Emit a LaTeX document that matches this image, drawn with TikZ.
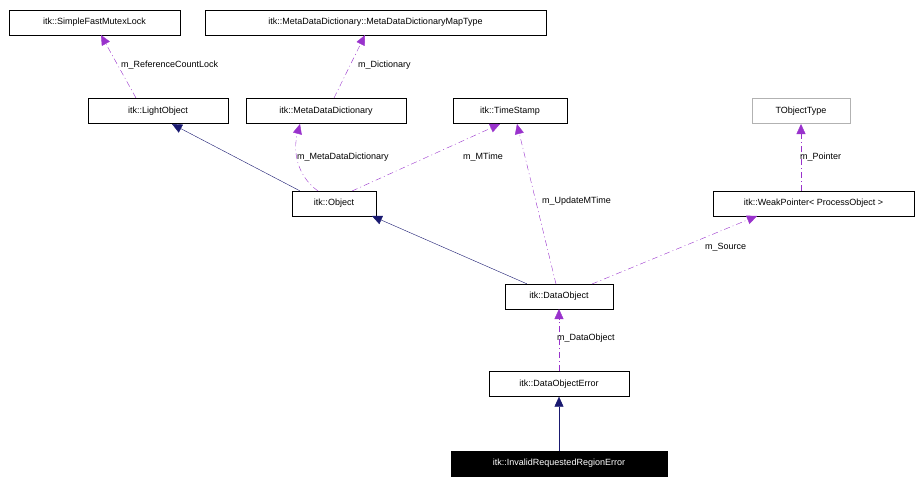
\documentclass[tikz,border=0pt]{standalone}
\usepackage{fontspec}
\setmainfont{Liberation Sans}
\usetikzlibrary{arrows.meta}
\definecolor{inh}{RGB}{25,25,112}
\definecolor{use}{RGB}{153,50,204}
\tikzset{x=1pt,y=-1pt,
  box/.style={draw,fill=white,inner sep=0pt,minimum height=25pt,font=\fontsize{9}{10}\selectfont},
  inhe/.style={draw=inh,-{Triangle[length=10pt,width=9pt,fill=inh]}},
  usee/.style={draw=use,dash pattern=on 6pt off 3pt on 1pt off 3pt,-{Triangle[length=10pt,width=9pt,fill=use]}},
  lab/.style={font=\fontsize{9}{10}\selectfont,anchor=west,inner sep=1pt}}
\begin{document}
\begin{tikzpicture}
\useasboundingbox (0,0) rectangle (922,482);
\node[box,minimum width=171pt] (mutex) at (94.5,22.5) {itk::SimpleFastMutexLock};
\node[box,minimum width=341pt] (map) at (375.5,22.5) {itk::MetaDataDictionary::MetaDataDictionaryMapType};
\node[box,minimum width=140pt] (light) at (158,111) {itk::LightObject};
\node[box,minimum width=160pt] (mdd) at (326,111) {itk::MetaDataDictionary};
\node[box,minimum width=114pt] (ts) at (510,111) {itk::TimeStamp};
\node[box,draw=gray!60,minimum width=98pt] (tobj) at (801,111) {TObjectType};
\node[box,minimum width=84pt] (obj) at (334,203.5) {itk::Object};
\node[box,minimum width=201pt] (weak) at (813.5,203.5) {itk::WeakPointer< ProcessObject >};
\node[box,minimum width=108pt] (dobj) at (559,296.5) {itk::DataObject};
\node[box,minimum width=140pt] (derr) at (559,384) {itk::DataObjectError};
\node[box,fill=black,text=white,minimum width=216pt] (inv) at (559,463.5) {itk::InvalidRequestedRegionError};

\draw[inhe] (obj.north west)++(8,0) -- (172,124);
\draw[inhe] (dobj.north west)++(22,0) -- (372,216);
\draw[inhe] (inv.north) -- (derr.south);

\draw[usee] (136,98) -- (101,35);
\node[lab] at (120,65) {m\_ReferenceCountLock};
\draw[usee] (334,98) -- (365,35);
\node[lab] at (357,65) {m\_Dictionary};
\draw[usee] (318,191) .. controls (296,175) and (293,150) .. (300,124);
\node[lab] at (296,157) {m\_MetaDataDictionary};
\draw[usee] (352,191) -- (500,124);
\node[lab] at (462,157) {m\_MTime};
\draw[usee] (556,284) -- (517,124);
\node[lab] at (541,201) {m\_UpdateMTime};
\draw[usee] (801,191) -- (801,124);
\node[lab] at (799,157) {m\_Pointer};
\draw[usee] (592,284) -- (757,216);
\node[lab] at (704,247) {m\_Source};
\draw[usee] (559,371) -- (559,309);
\node[lab] at (556,338) {m\_DataObject};
\end{tikzpicture}
\end{document}
